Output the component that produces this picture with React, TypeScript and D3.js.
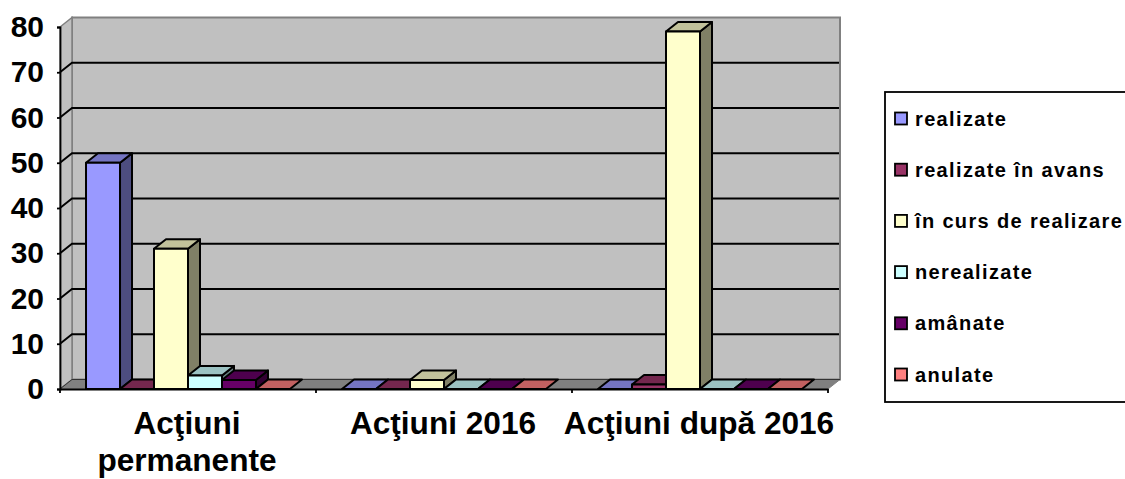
import React, { useEffect, useRef } from "react";
import * as d3 from "d3";

const categories = ["Acţiuni permanente", "Acţiuni 2016", "Acţiuni după 2016"];
const seriesNames = [
  "realizate",
  "realizate în avans",
  "în curs de realizare",
  "nerealizate",
  "amânate",
  "anulate",
];
const seriesColors = ["#9999FF", "#993366", "#FFFFCC", "#CCFFFF", "#660066", "#FF8080"];
const realizate = [50, 0, 0];
const realizateInAvans = [0, 0, 1];
const inCurs = [31, 2, 79];
const nerealizate = [3, 0, 0];
const amanate = [2, 0, 0];
const anulate = [0, 0, 0];
const seriesValues = [realizate, realizateInAvans, inCurs, nerealizate, amanate, anulate];
const yTicks = [0, 10, 20, 30, 40, 50, 60, 70, 80];

const FONT = "'Liberation Sans', Arial, sans-serif";

const App = () => {
  const svgRef = useRef<SVGSVGElement>(null);

  useEffect(() => {
    const svg = d3.select(svgRef.current);
    svg.selectAll("*").remove();

    const left = 60;
    const right = 828;
    const top = 27;
    const bottom = 389;
    const depthX = 12;
    const depthY = -9.5;

    const x = d3.scaleBand<string>().domain(categories).range([left, right]);
    const inner = d3
      .scaleBand<number>()
      .domain(d3.range(seriesNames.length))
      .range([0, x.bandwidth()])
      .paddingOuter(0.765)
      .paddingInner(0);
    const y = d3.scaleLinear().domain([0, 80]).range([bottom, top]);

    const poly = (pts: number[][]) => d3.line()(pts as [number, number][]) + "Z";

    // back wall, side wall and floor
    svg
      .append("path")
      .attr(
        "d",
        poly([
          [left + depthX, top + depthY],
          [right + depthX, top + depthY],
          [right + depthX, bottom + depthY],
          [left + depthX, bottom + depthY],
        ])
      )
      .attr("fill", "#C0C0C0")
      .attr("stroke", "#808080")
      .attr("stroke-width", 2);
    svg
      .append("path")
      .attr(
        "d",
        poly([
          [left, top],
          [left + depthX, top + depthY],
          [left + depthX, bottom + depthY],
          [left, bottom],
        ])
      )
      .attr("fill", "#C0C0C0")
      .attr("stroke", "#808080")
      .attr("stroke-width", 1.5);
    svg
      .append("path")
      .attr(
        "d",
        poly([
          [left, bottom],
          [left + depthX, bottom + depthY],
          [right + depthX, bottom + depthY],
          [right, bottom],
        ])
      )
      .attr("fill", "#808080")
      .attr("stroke", "#808080");

    // grid lines
    yTicks.slice(0, -1).forEach((t) => {
      svg
        .append("path")
        .attr(
          "d",
          d3.line()([
            [left, y(t)],
            [left + depthX, y(t) + depthY],
            [t === 0 ? right + depthX : right + depthX - 1, y(t) + depthY],
          ])
        )
        .attr("fill", "none")
        .attr("stroke", t === 0 ? "#333333" : "#000")
        .attr("stroke-width", t === 0 ? 1 : 1.9);
    });

    // bars, left to right so that each front covers the neighbour's side
    categories.forEach((cat, c) => {
      seriesValues.forEach((values, s) => {
        const x0 = x(cat)! + inner(s)!;
        const x1 = x0 + inner.bandwidth();
        const yTop = y(values[c]);
        const base = d3.color(seriesColors[s])!;
        const g = svg.append("g").attr("stroke", "#000").attr("stroke-width", 2).attr("stroke-linejoin", "round");
        if (values[c] > 0) {
          g.append("path")
            .attr(
              "d",
              poly([
                [x1, yTop],
                [x1 + depthX, yTop + depthY],
                [x1 + depthX, bottom + depthY],
                [x1, bottom],
              ])
            )
            .attr("fill", d3.rgb(base.rgb().r * 0.5, base.rgb().g * 0.5, base.rgb().b * 0.5).toString());
        }
        g.append("path")
          .attr(
            "d",
            poly([
              [x0, yTop],
              [x0 + depthX, yTop + depthY],
              [x1 + depthX, yTop + depthY],
              [x1, yTop],
            ])
          )
          .attr("fill", d3.rgb(base.rgb().r * 0.76, base.rgb().g * 0.76, base.rgb().b * 0.76).toString());
        if (values[c] > 0) {
          g.append("rect")
            .attr("x", x0)
            .attr("y", yTop)
            .attr("width", x1 - x0)
            .attr("height", bottom - yTop)
            .attr("fill", seriesColors[s]);
        }
      });
    });

    // axes
    const axisY = svg.append("g").attr("transform", `translate(${left},0)`);
    axisY.call(d3.axisLeft(y).tickValues(yTicks).tickSize(3).tickPadding(13) as any);
    axisY.selectAll("path,line").attr("stroke", "#000").attr("stroke-width", 1.8);
    axisY
      .selectAll("text")
      .attr("fill", "#000")
      .style("font-family", FONT)
      .style("font-weight", "bold")
      .style("font-size", "30px");

    const axisX = svg.append("g").attr("transform", `translate(0,${bottom})`);
    axisX.call(d3.axisBottom(x).tickSize(0).tickFormat(() => "") as any);
    axisX.selectAll("path").attr("stroke", "#000").attr("stroke-width", 1.8);
    [left, ...categories.map((c) => x(c)! + x.bandwidth())].forEach((tx) => {
      axisX.append("line").attr("x1", tx).attr("x2", tx).attr("y1", 0).attr("y2", 4).attr("stroke", "#000").attr("stroke-width", 1.8);
    });

    // category labels, the first one wraps on two lines
    const labelLines = [["Acţiuni", "permanente"], [categories[1]], [categories[2]]];
    categories.forEach((cat, c) => {
      labelLines[c].forEach((line, i) => {
        svg
          .append("text")
          .attr("x", x(cat)! + x.bandwidth() / 2 - 1)
          .attr("y", 434 + i * 37)
          .attr("text-anchor", "middle")
          .style("font-family", FONT)
          .style("font-weight", "bold")
          .style("font-size", "31.6px")
          .text(line);
      });
    });

    // legend, the right edge runs off the picture
    svg
      .append("rect")
      .attr("x", 885)
      .attr("y", 92)
      .attr("width", 260)
      .attr("height", 310)
      .attr("fill", "#fff")
      .attr("stroke", "#000")
      .attr("stroke-width", 1.8);
    const legendY = d3.scalePoint<string>().domain(seriesNames).range([118.5, 374.5]);
    seriesNames.forEach((name, i) => {
      svg
        .append("rect")
        .attr("x", 895)
        .attr("y", legendY(name)! - 6)
        .attr("width", 12)
        .attr("height", 12)
        .attr("fill", seriesColors[i])
        .attr("stroke", "#000")
        .attr("stroke-width", 1.8);
      svg
        .append("text")
        .attr("x", 915)
        .attr("y", legendY(name)! + 7)
        .style("font-family", FONT)
        .style("font-weight", "bold")
        .style("font-size", "20px")
        .style("letter-spacing", "1.35px")
        .text(name);
    });
  }, []);

  return (
    <svg
      ref={svgRef}
      width={1125}
      height={479}
      style={{ position: "absolute", left: 0, top: 0, background: "#fff" }}
    ></svg>
  );
};

export default App;
